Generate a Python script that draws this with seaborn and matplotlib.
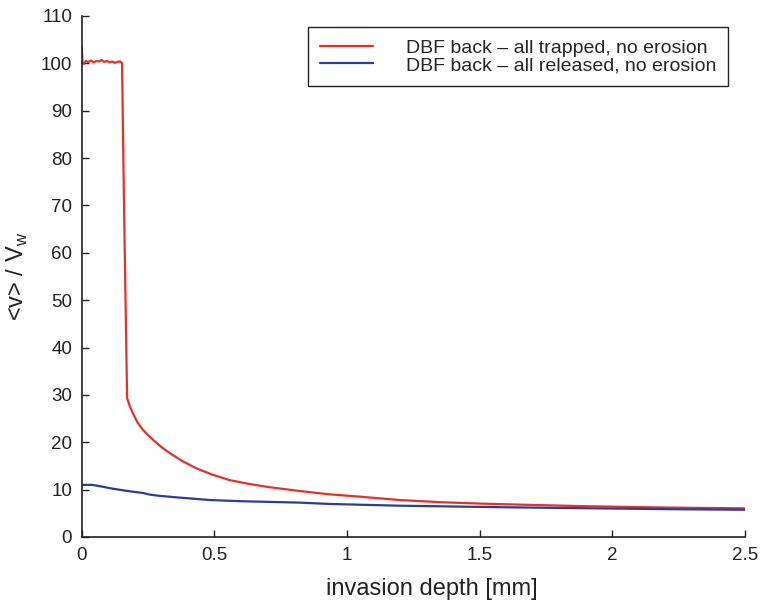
import numpy as np
import pandas as pd
import matplotlib
matplotlib.use("Agg")
import matplotlib.pyplot as plt
import seaborn as sns
from matplotlib.lines import Line2D

# Data
red_x = [0.0, 0.003, 0.008, 0.015, 0.025, 0.035, 0.045, 0.055, 0.065, 0.075, 0.085,
         0.095, 0.105, 0.115, 0.125, 0.135, 0.145, 0.152, 0.158, 0.165, 0.171,
         0.18, 0.193, 0.21, 0.231, 0.25, 0.269, 0.3, 0.332, 0.38, 0.432, 0.49,
         0.558, 0.63, 0.709, 0.822, 0.935, 1.05, 1.199, 1.35, 1.5, 1.7, 1.9,
         2.1, 2.3, 2.5]
red_y = [103.5, 100.0, 99.9, 100.5, 100.3, 100.6, 100.2, 100.5, 100.4, 100.7, 100.3,
         100.5, 100.2, 100.4, 100.1, 100.3, 100.4, 100.0, 75.0, 50.0, 29.3,
         27.8, 26.1, 24.2, 22.6, 21.5, 20.5, 19.0, 17.7, 16.0, 14.5, 13.2,
         12.0, 11.2, 10.5, 9.7, 9.0, 8.5, 7.8, 7.35, 7.05, 6.76, 6.5,
         6.3, 6.15, 6.05]
blue_x = [0.0, 0.04, 0.08, 0.106, 0.15, 0.2, 0.23, 0.256, 0.29, 0.35, 0.483, 0.6,
          0.822, 0.935, 1.2, 1.5, 1.7, 2.0, 2.25, 2.5]
blue_y = [11.0, 11.0, 10.6, 10.3, 9.9, 9.5, 9.3, 8.95, 8.7, 8.4, 7.8, 7.55,
          7.25, 6.97, 6.6, 6.35, 6.2, 6.0, 5.85, 5.75]
labels = ["DBF back \u2013 all trapped, no erosion",
          "DBF back \u2013 all released, no erosion"]
x_ticks = [0, 0.5, 1, 1.5, 2, 2.5]
x_ticklabels = ["0", "0.5", "1", "1.5", "2", "2.5"]
y_ticks = list(range(0, 111, 10))

df = pd.concat([
    pd.DataFrame({"x": red_x, "y": red_y, "series": labels[0]}),
    pd.DataFrame({"x": blue_x, "y": blue_y, "series": labels[1]}),
], ignore_index=True)

sns.set_style("ticks")
plt.rcParams["font.family"] = ["Liberation Sans", "DejaVu Sans"]
plt.rcParams["mathtext.fontset"] = "custom"
plt.rcParams["mathtext.rm"] = "Liberation Sans"

fig = plt.figure(figsize=(7.64, 6.03), dpi=100)
ax = fig.add_axes([0.107, 0.1095, 0.868, 0.864])

palette = {labels[0]: "#e4322b", labels[1]: "#2b3c9e"}
sns.lineplot(data=df, x="x", y="y", hue="series", palette=palette, ax=ax,
             linewidth=1.6, sort=False, estimator=None, legend=False)

ax.set_xlim(0, 2.5)
ax.set_ylim(0, 110)
ax.set_xticks(x_ticks)
ax.set_xticklabels(x_ticklabels)
ax.set_yticks(y_ticks)
ax.tick_params(direction="in", length=5, width=1, labelsize=13.5, colors="#222222",
               pad=7)
for side in ["top", "right"]:
    ax.spines[side].set_visible(False)
for side in ["left", "bottom"]:
    ax.spines[side].set_linewidth(1.2)
    ax.spines[side].set_color("#222222")

ax.set_xlabel("invasion depth [mm]", fontsize=17, color="#222222")
ax.xaxis.set_label_coords(0.528, -0.078, transform=ax.transAxes)
ax.xaxis.label.set_va("top")
ax.set_ylabel(r"<v> / V$_\mathregular{w}$", fontsize=17, color="#222222", labelpad=8)

handles = [Line2D([], [], color=palette[l], linewidth=1.6) for l in labels]
leg = ax.legend(handles, labels, loc="upper right", bbox_to_anchor=(0.9745, 0.979),
                fontsize=14, frameon=True, fancybox=False, framealpha=1,
                edgecolor="#222222", handlelength=2.7, handletextpad=1.7,
                borderpad=0.62, labelspacing=0.0, borderaxespad=0)
leg.get_frame().set_linewidth(1.0)

fig.savefig("out.png", dpi=100)
